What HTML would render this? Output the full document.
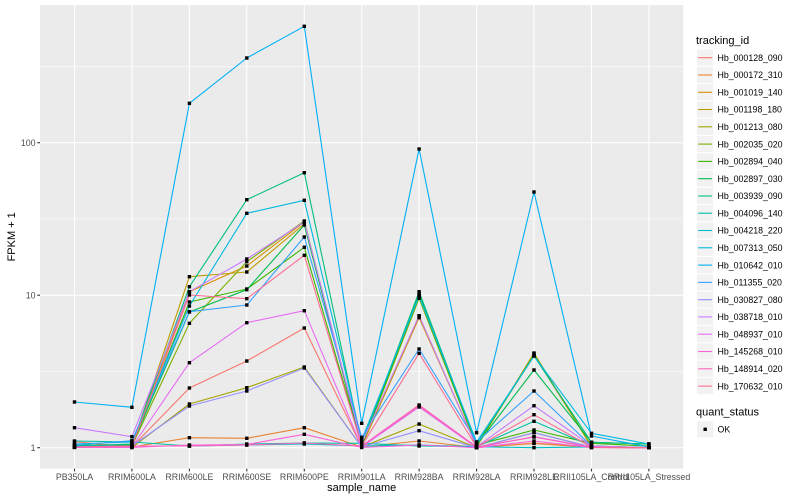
<!DOCTYPE html>
<html><head><meta charset="utf-8"><style>
html,body{margin:0;padding:0;background:#fff;}
svg{display:block;font-family:"Liberation Sans",sans-serif;}
</style></head><body>
<svg width="800" height="500" viewBox="0 0 800 500" xmlns="http://www.w3.org/2000/svg">
<defs>
<marker id="pt" markerWidth="4" markerHeight="4" refX="2" refY="2" markerUnits="userSpaceOnUse"><rect x="0.3" y="0.3" width="3.4" height="3.4" fill="#000"/></marker>
</defs>
<rect x="40" y="5" width="643.3" height="463.7" fill="#EBEBEB"/>
<g stroke="#fff" stroke-width="0.55" fill="none">
<line x1="40" x2="683.3" y1="66.5" y2="66.5"/>
<line x1="40" x2="683.3" y1="219" y2="219"/>
<line x1="40" x2="683.3" y1="371.4" y2="371.4"/>
</g>
<g stroke="#fff" stroke-width="1.1" fill="none">
<line x1="40" x2="683.3" y1="142.7" y2="142.7"/>
<line x1="40" x2="683.3" y1="295.2" y2="295.2"/>
<line x1="40" x2="683.3" y1="447.7" y2="447.7"/>
<line y1="5" y2="468.7" x1="74.5" x2="74.5"/>
<line y1="5" y2="468.7" x1="131.9" x2="131.9"/>
<line y1="5" y2="468.7" x1="189.4" x2="189.4"/>
<line y1="5" y2="468.7" x1="246.8" x2="246.8"/>
<line y1="5" y2="468.7" x1="304.3" x2="304.3"/>
<line y1="5" y2="468.7" x1="361.7" x2="361.7"/>
<line y1="5" y2="468.7" x1="419.1" x2="419.1"/>
<line y1="5" y2="468.7" x1="476.6" x2="476.6"/>
<line y1="5" y2="468.7" x1="534.0" x2="534.0"/>
<line y1="5" y2="468.7" x1="591.5" x2="591.5"/>
<line y1="5" y2="468.7" x1="648.9" x2="648.9"/>
</g>
<g fill="none" stroke-width="1.1" stroke-linejoin="round">
<polyline stroke="#F8766D" points="74.5,441.7 131.9,447 189.4,388 246.8,361 304.3,328 361.7,447 419.1,406 476.6,447.7 534,443 591.5,447 648.9,447.7"/>
<polyline stroke="#EA8331" points="74.5,446 131.9,447 189.4,437.7 246.8,438.3 304.3,427.7 361.7,447 419.1,441 476.6,447.5 534,443.5 591.5,447.5 648.9,447.7"/>
<polyline stroke="#D89000" points="74.5,447 131.9,446 189.4,291.7 246.8,266 304.3,222 361.7,446 419.1,317.7 476.6,446 534,355 591.5,446 648.9,447.7"/>
<polyline stroke="#C09B00" points="74.5,447 131.9,446 189.4,276.7 246.8,272 304.3,224 361.7,446.7 419.1,315.7 476.6,447 534,353 591.5,447 648.9,447.7"/>
<polyline stroke="#A3A500" points="74.5,447 131.9,447.5 189.4,404 246.8,387.7 304.3,367 361.7,447 419.1,424 476.6,447.7 534,432.7 591.5,447 648.9,447.7"/>
<polyline stroke="#7CAE00" points="74.5,446 131.9,446 189.4,323.3 246.8,261.7 304.3,221 361.7,446 419.1,298.3 476.6,446 534,354 591.5,446 648.9,447.7"/>
<polyline stroke="#39B600" points="74.5,446 131.9,445 189.4,302 246.8,289 304.3,247.3 361.7,445 419.1,295.7 476.6,445 534,430 591.5,443.3 648.9,446"/>
<polyline stroke="#00BB4E" points="74.5,445 131.9,445 189.4,312 246.8,289.7 304.3,225 361.7,445 419.1,293.3 476.6,445 534,370 591.5,442.3 648.9,444"/>
<polyline stroke="#00BF7D" points="74.5,446 131.9,444 189.4,286.7 246.8,199.7 304.3,172.7 361.7,444 419.1,291.7 476.6,444 534,356 591.5,442.3 648.9,444"/>
<polyline stroke="#00C1A3" points="74.5,441 131.9,442 189.4,446 246.8,444 304.3,443 361.7,443.3 419.1,446 476.6,446.7 534,421.3 591.5,446 648.9,447.7"/>
<polyline stroke="#00BFC4" points="74.5,446 131.9,446 189.4,446 246.8,445 304.3,444 361.7,446 419.1,445 476.6,446.7 534,447.7 591.5,447 648.9,447.7"/>
<polyline stroke="#00BAE0" points="74.5,444 131.9,442 189.4,306 246.8,213.3 304.3,200.3 361.7,440 419.1,296 476.6,442 534,356 591.5,433.3 648.9,444"/>
<polyline stroke="#00B0F6" points="74.5,402 131.9,407.3 189.4,103.3 246.8,58 304.3,26.3 361.7,423.3 419.1,149 476.6,432.7 534,192 591.5,436 648.9,447"/>
<polyline stroke="#35A2FF" points="74.5,445 131.9,440.7 189.4,311.7 246.8,305 304.3,237 361.7,437.3 419.1,349 476.6,442 534,391 591.5,446 648.9,447.7"/>
<polyline stroke="#9590FF" points="74.5,447 131.9,446 189.4,406 246.8,391 304.3,368 361.7,447 419.1,430.7 476.6,447.7 534,432.7 591.5,447 648.9,447.7"/>
<polyline stroke="#C77CFF" points="74.5,427.7 131.9,436.7 189.4,291.7 246.8,259 304.3,222 361.7,443.3 419.1,315.7 476.6,446.7 534,405.7 591.5,446 648.9,447.7"/>
<polyline stroke="#E76BF3" points="74.5,447 131.9,447 189.4,362.7 246.8,322.7 304.3,310.7 361.7,447 419.1,407 476.6,447.7 534,436.7 591.5,447 648.9,447.7"/>
<polyline stroke="#FA62DB" points="74.5,447.5 131.9,447.5 189.4,445 246.8,444.5 304.3,434.3 361.7,447.5 419.1,445 476.6,447.7 534,441 591.5,447.5 648.9,447.7"/>
<polyline stroke="#FF62BC" points="74.5,447 131.9,446 189.4,446 246.8,445 304.3,443 361.7,446 419.1,405 476.6,447 534,437 591.5,447.5 648.9,447.7"/>
<polyline stroke="#FF6C91" points="74.5,447 131.9,446 189.4,295 246.8,298.7 304.3,255.3 361.7,446 419.1,353.3 476.6,447 534,414.7 591.5,447 648.9,447.7"/>
</g>
<g fill="none" stroke="none" marker-start="url(#pt)" marker-mid="url(#pt)" marker-end="url(#pt)">
<polyline points="74.5,441.7 131.9,447 189.4,388 246.8,361 304.3,328 361.7,447 419.1,406 476.6,447.7 534,443 591.5,447 648.9,447.7"/>
<polyline points="74.5,446 131.9,447 189.4,437.7 246.8,438.3 304.3,427.7 361.7,447 419.1,441 476.6,447.5 534,443.5 591.5,447.5 648.9,447.7"/>
<polyline points="74.5,447 131.9,446 189.4,291.7 246.8,266 304.3,222 361.7,446 419.1,317.7 476.6,446 534,355 591.5,446 648.9,447.7"/>
<polyline points="74.5,447 131.9,446 189.4,276.7 246.8,272 304.3,224 361.7,446.7 419.1,315.7 476.6,447 534,353 591.5,447 648.9,447.7"/>
<polyline points="74.5,447 131.9,447.5 189.4,404 246.8,387.7 304.3,367 361.7,447 419.1,424 476.6,447.7 534,432.7 591.5,447 648.9,447.7"/>
<polyline points="74.5,446 131.9,446 189.4,323.3 246.8,261.7 304.3,221 361.7,446 419.1,298.3 476.6,446 534,354 591.5,446 648.9,447.7"/>
<polyline points="74.5,446 131.9,445 189.4,302 246.8,289 304.3,247.3 361.7,445 419.1,295.7 476.6,445 534,430 591.5,443.3 648.9,446"/>
<polyline points="74.5,445 131.9,445 189.4,312 246.8,289.7 304.3,225 361.7,445 419.1,293.3 476.6,445 534,370 591.5,442.3 648.9,444"/>
<polyline points="74.5,446 131.9,444 189.4,286.7 246.8,199.7 304.3,172.7 361.7,444 419.1,291.7 476.6,444 534,356 591.5,442.3 648.9,444"/>
<polyline points="74.5,441 131.9,442 189.4,446 246.8,444 304.3,443 361.7,443.3 419.1,446 476.6,446.7 534,421.3 591.5,446 648.9,447.7"/>
<polyline points="74.5,446 131.9,446 189.4,446 246.8,445 304.3,444 361.7,446 419.1,445 476.6,446.7 534,447.7 591.5,447 648.9,447.7"/>
<polyline points="74.5,444 131.9,442 189.4,306 246.8,213.3 304.3,200.3 361.7,440 419.1,296 476.6,442 534,356 591.5,433.3 648.9,444"/>
<polyline points="74.5,402 131.9,407.3 189.4,103.3 246.8,58 304.3,26.3 361.7,423.3 419.1,149 476.6,432.7 534,192 591.5,436 648.9,447"/>
<polyline points="74.5,445 131.9,440.7 189.4,311.7 246.8,305 304.3,237 361.7,437.3 419.1,349 476.6,442 534,391 591.5,446 648.9,447.7"/>
<polyline points="74.5,447 131.9,446 189.4,406 246.8,391 304.3,368 361.7,447 419.1,430.7 476.6,447.7 534,432.7 591.5,447 648.9,447.7"/>
<polyline points="74.5,427.7 131.9,436.7 189.4,291.7 246.8,259 304.3,222 361.7,443.3 419.1,315.7 476.6,446.7 534,405.7 591.5,446 648.9,447.7"/>
<polyline points="74.5,447 131.9,447 189.4,362.7 246.8,322.7 304.3,310.7 361.7,447 419.1,407 476.6,447.7 534,436.7 591.5,447 648.9,447.7"/>
<polyline points="74.5,447.5 131.9,447.5 189.4,445 246.8,444.5 304.3,434.3 361.7,447.5 419.1,445 476.6,447.7 534,441 591.5,447.5 648.9,447.7"/>
<polyline points="74.5,447 131.9,446 189.4,446 246.8,445 304.3,443 361.7,446 419.1,405 476.6,447 534,437 591.5,447.5 648.9,447.7"/>
<polyline points="74.5,447 131.9,446 189.4,295 246.8,298.7 304.3,255.3 361.7,446 419.1,353.3 476.6,447 534,414.7 591.5,447 648.9,447.7"/>
</g>
<g stroke="#333" stroke-width="1.1">
<line x1="37.3" x2="40" y1="142.7" y2="142.7"/>
<line x1="37.3" x2="40" y1="295.2" y2="295.2"/>
<line x1="37.3" x2="40" y1="447.7" y2="447.7"/>
<line y1="468.7" y2="471.4" x1="74.5" x2="74.5"/>
<line y1="468.7" y2="471.4" x1="131.9" x2="131.9"/>
<line y1="468.7" y2="471.4" x1="189.4" x2="189.4"/>
<line y1="468.7" y2="471.4" x1="246.8" x2="246.8"/>
<line y1="468.7" y2="471.4" x1="304.3" x2="304.3"/>
<line y1="468.7" y2="471.4" x1="361.7" x2="361.7"/>
<line y1="468.7" y2="471.4" x1="419.1" x2="419.1"/>
<line y1="468.7" y2="471.4" x1="476.6" x2="476.6"/>
<line y1="468.7" y2="471.4" x1="534.0" x2="534.0"/>
<line y1="468.7" y2="471.4" x1="591.5" x2="591.5"/>
<line y1="468.7" y2="471.4" x1="648.9" x2="648.9"/>
</g>
<g font-size="8.8" fill="#4D4D4D" text-anchor="end">
<text x="35.5" y="145.9">100</text>
<text x="35.5" y="298.4">10</text>
<text x="35.5" y="450.9">1</text>
</g>
<g font-size="8.8" fill="#4D4D4D" text-anchor="middle">
<text x="74.5" y="480">PB350LA</text>
<text x="131.9" y="480">RRIM600LA</text>
<text x="189.4" y="480">RRIM600LE</text>
<text x="246.8" y="480">RRIM600SE</text>
<text x="304.3" y="480">RRIM600PE</text>
<text x="361.7" y="480">RRIM901LA</text>
<text x="419.1" y="480">RRIM928BA</text>
<text x="476.6" y="480">RRIM928LA</text>
<text x="534.0" y="480">RRIM928LE</text>
<text x="591.5" y="480">RRII105LA_Control</text>
<text x="648.9" y="480">RRII105LA_Stressed</text>
</g>
<text x="361.7" y="491" font-size="11" fill="#000" text-anchor="middle">sample_name</text>
<text transform="translate(15,236.8) rotate(-90)" font-size="11" fill="#000" text-anchor="middle">FPKM + 1</text>
<text x="696" y="44" font-size="11" fill="#000">tracking_id</text>
<g stroke="#fff" stroke-width="1.1" fill="#F2F2F2">
<rect x="696.5" y="49" width="17.3" height="17.3"/><rect x="696.5" y="66.3" width="17.3" height="17.3"/><rect x="696.5" y="83.6" width="17.3" height="17.3"/><rect x="696.5" y="100.9" width="17.3" height="17.3"/><rect x="696.5" y="118.2" width="17.3" height="17.3"/><rect x="696.5" y="135.5" width="17.3" height="17.3"/><rect x="696.5" y="152.7" width="17.3" height="17.3"/><rect x="696.5" y="170" width="17.3" height="17.3"/><rect x="696.5" y="187.3" width="17.3" height="17.3"/><rect x="696.5" y="204.6" width="17.3" height="17.3"/><rect x="696.5" y="221.9" width="17.3" height="17.3"/><rect x="696.5" y="239.2" width="17.3" height="17.3"/><rect x="696.5" y="256.4" width="17.3" height="17.3"/><rect x="696.5" y="273.7" width="17.3" height="17.3"/><rect x="696.5" y="291" width="17.3" height="17.3"/><rect x="696.5" y="308.3" width="17.3" height="17.3"/><rect x="696.5" y="325.6" width="17.3" height="17.3"/><rect x="696.5" y="342.9" width="17.3" height="17.3"/><rect x="696.5" y="360.1" width="17.3" height="17.3"/><rect x="696.5" y="377.4" width="17.3" height="17.3"/>
<rect x="696.5" y="420.6" width="17.3" height="17.3"/>
</g>
<g stroke-width="1.1">
<line x1="698.2" x2="712.1" y1="57.7" y2="57.7" stroke="#F8766D"/>
<line x1="698.2" x2="712.1" y1="75" y2="75" stroke="#EA8331"/>
<line x1="698.2" x2="712.1" y1="92.3" y2="92.3" stroke="#D89000"/>
<line x1="698.2" x2="712.1" y1="109.5" y2="109.5" stroke="#C09B00"/>
<line x1="698.2" x2="712.1" y1="126.8" y2="126.8" stroke="#A3A500"/>
<line x1="698.2" x2="712.1" y1="144.1" y2="144.1" stroke="#7CAE00"/>
<line x1="698.2" x2="712.1" y1="161.4" y2="161.4" stroke="#39B600"/>
<line x1="698.2" x2="712.1" y1="178.7" y2="178.7" stroke="#00BB4E"/>
<line x1="698.2" x2="712.1" y1="196" y2="196" stroke="#00BF7D"/>
<line x1="698.2" x2="712.1" y1="213.2" y2="213.2" stroke="#00C1A3"/>
<line x1="698.2" x2="712.1" y1="230.5" y2="230.5" stroke="#00BFC4"/>
<line x1="698.2" x2="712.1" y1="247.8" y2="247.8" stroke="#00BAE0"/>
<line x1="698.2" x2="712.1" y1="265.1" y2="265.1" stroke="#00B0F6"/>
<line x1="698.2" x2="712.1" y1="282.4" y2="282.4" stroke="#35A2FF"/>
<line x1="698.2" x2="712.1" y1="299.7" y2="299.7" stroke="#9590FF"/>
<line x1="698.2" x2="712.1" y1="316.9" y2="316.9" stroke="#C77CFF"/>
<line x1="698.2" x2="712.1" y1="334.2" y2="334.2" stroke="#E76BF3"/>
<line x1="698.2" x2="712.1" y1="351.5" y2="351.5" stroke="#FA62DB"/>
<line x1="698.2" x2="712.1" y1="368.8" y2="368.8" stroke="#FF62BC"/>
<line x1="698.2" x2="712.1" y1="386.1" y2="386.1" stroke="#FF6C91"/>
</g>
<g font-size="8.8" fill="#000">
<text x="717.5" y="60.9">Hb_000128_090</text>
<text x="717.5" y="78.2">Hb_000172_310</text>
<text x="717.5" y="95.5">Hb_001019_140</text>
<text x="717.5" y="112.7">Hb_001198_180</text>
<text x="717.5" y="130">Hb_001213_080</text>
<text x="717.5" y="147.3">Hb_002035_020</text>
<text x="717.5" y="164.6">Hb_002894_040</text>
<text x="717.5" y="181.9">Hb_002897_030</text>
<text x="717.5" y="199.2">Hb_003939_090</text>
<text x="717.5" y="216.4">Hb_004096_140</text>
<text x="717.5" y="233.7">Hb_004218_220</text>
<text x="717.5" y="251">Hb_007313_050</text>
<text x="717.5" y="268.3">Hb_010642_010</text>
<text x="717.5" y="285.6">Hb_011355_020</text>
<text x="717.5" y="302.9">Hb_030827_080</text>
<text x="717.5" y="320.1">Hb_038718_010</text>
<text x="717.5" y="337.4">Hb_048937_010</text>
<text x="717.5" y="354.7">Hb_145268_010</text>
<text x="717.5" y="372">Hb_148914_020</text>
<text x="717.5" y="389.3">Hb_170632_010</text>
</g>
<text x="696" y="415.7" font-size="11" fill="#000">quant_status</text>
<rect x="703.5" y="427.6" width="3.4" height="3.4" fill="#000"/>
<text x="717.5" y="432.5" font-size="8.8" fill="#000">OK</text>
</svg>
</body></html>
